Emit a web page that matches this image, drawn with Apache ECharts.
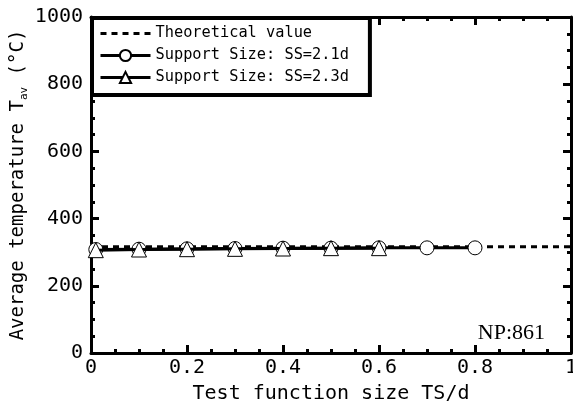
<!DOCTYPE html>
<html>
<head>
<meta charset="utf-8">
<script src="https://cdn.jsdelivr.net/npm/echarts@6/dist/echarts.min.js"></script>
<style>
  html, body { margin: 0; padding: 0; background: #fff; }
  #chart { width: 573px; height: 412px; }
</style>
</head>
<body>
<div id="chart"></div>
<script>
// Average temperature vs. test function size
const xTheory = [0, 1];
const theoryValue = [316, 316];

const tsCircle = [0.01, 0.1, 0.2, 0.3, 0.4, 0.5, 0.6, 0.7, 0.8];
const ss21 = [308, 309, 310, 311, 312, 312, 313, 313, 313];

const tsTriangle = [0.01, 0.1, 0.2, 0.3, 0.4, 0.5, 0.6];
const ss23 = [306, 308, 309, 310, 311, 312, 312];

const seriesNames = ['Theoretical value', 'Support Size: SS=2.1d', 'Support Size: SS=2.3d'];
const noteText = 'NP:861';

const mono = 'DejaVu Sans Mono';
const pair = (xs, ys) => xs.map((x, i) => [x, ys[i]]);

const chart = echarts.init(document.getElementById('chart'), null, { renderer: 'canvas' });

const tickCommon = {
  axisLine: { show: true, onZero: false, lineStyle: { color: '#000', width: 3 } },
  axisTick: { show: true, inside: true, length: 8, lineStyle: { color: '#000', width: 3 } },
  minorTick: { show: true, splitNumber: 4, length: 4, lineStyle: { color: '#000', width: 3 } },
  splitLine: { show: false },
  minorSplitLine: { show: false }
};

chart.setOption({
  animation: false,
  backgroundColor: '#fff',
  grid: { left: 91, right: 2, top: 17, bottom: 59, containLabel: false, outerBoundsMode: 'none' },
  legend: {
    orient: 'vertical',
    left: 91,
    top: 17,
    data: [
      { name: seriesNames[0], itemStyle: { color: 'rgba(0,0,0,0)', borderWidth: 0, opacity: 0 } },
      { name: seriesNames[1] },
      { name: seriesNames[2] }
    ],
    itemWidth: 50,
    itemHeight: 14,
    itemGap: 7,
    padding: [9, 20, 9, 8],
    backgroundColor: '#fff',
    borderColor: '#000',
    borderWidth: 2,
    shadowColor: '#000',
    shadowBlur: 0,
    shadowOffsetX: 2,
    shadowOffsetY: 2,
    lineStyle: { width: 3 },
    textStyle: { fontFamily: mono, fontSize: 15.3, color: '#000' }
  },
  xAxis: [
    Object.assign({
      type: 'value', min: 0, max: 1, interval: 0.2, position: 'bottom',
      name: 'Test function size TS/d',
      nameLocation: 'middle', nameGap: 31, nameMoveOverlap: false,
      nameTextStyle: { fontFamily: mono, fontSize: 20, color: '#000' },
      axisLabel: { fontFamily: mono, fontSize: 20, color: '#000', margin: 5 }
    }, tickCommon),
    Object.assign({
      type: 'value', min: 0, max: 1, interval: 0.2, position: 'top',
      axisLabel: { show: false }
    }, tickCommon)
  ],
  yAxis: [
    Object.assign({
      type: 'value', min: 0, max: 1000, interval: 200, position: 'left',
      name: '{m|Average temperature T}{s|av}{m| (°C)}',
      nameLocation: 'middle', nameGap: 61, nameRotate: 90, nameMoveOverlap: false,
      nameTextStyle: {
        rich: {
          m: { fontFamily: mono, fontSize: 19, color: '#000', lineHeight: 24, verticalAlign: 'middle' },
          s: { fontFamily: mono, fontSize: 11, color: '#000', lineHeight: 12, verticalAlign: 'bottom' }
        }
      },
      axisLabel: { fontFamily: mono, fontSize: 20, color: '#000', margin: 8, formatter: v => String(v) }
    }, tickCommon),
    Object.assign({
      type: 'value', min: 0, max: 1000, interval: 200, position: 'right',
      axisLabel: { show: false }
    }, tickCommon)
  ],
  graphic: [{
    type: 'text',
    right: 28,
    top: 322,
    style: { text: noteText, font: '22px "Liberation Serif"', fill: '#000' }
  }],
  series: [
    {
      name: seriesNames[0],
      type: 'line',
      data: pair(xTheory, theoryValue),
      symbol: 'none',
      lineStyle: { color: '#000', width: 3, type: [6, 5] },
      itemStyle: { color: '#000' },
      z: 2
    },
    {
      name: seriesNames[1],
      type: 'line',
      data: pair(tsCircle, ss21),
      symbol: 'circle',
      symbolSize: 14,
      lineStyle: { color: '#000', width: 3 },
      itemStyle: { color: '#fff', borderColor: '#000', borderWidth: 1 },
      z: 3
    },
    {
      name: seriesNames[2],
      type: 'line',
      data: pair(tsTriangle, ss23),
      symbol: 'triangle',
      symbolSize: 15,
      lineStyle: { color: '#000', width: 3 },
      itemStyle: { color: '#fff', borderColor: '#000', borderWidth: 1 },
      z: 4
    }
  ]
});
</script>
</body>
</html>
